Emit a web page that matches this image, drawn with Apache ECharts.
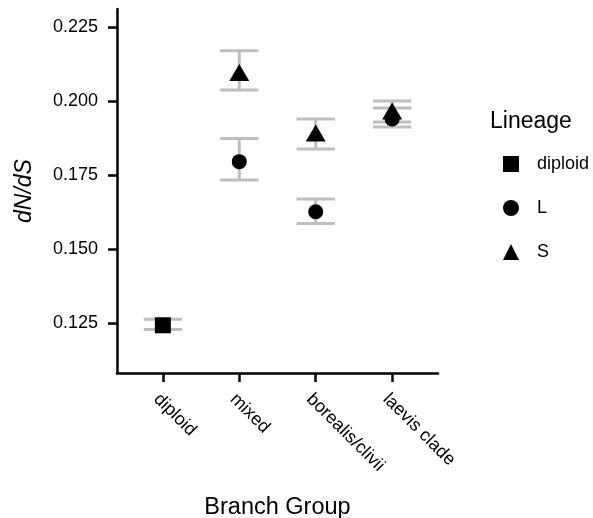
<!DOCTYPE html>
<html>
<head>
<meta charset="utf-8">
<script src="https://cdn.jsdelivr.net/npm/echarts@6/dist/echarts.min.js"></script>
<style>html,body{margin:0;padding:0;background:#fff;}#c{width:593px;height:518px;}</style>
</head>
<body>
<div id="c"></div>
<script>
const categories = ['diploid', 'mixed', 'borealis/clivii', 'laevis clade'];
const lineages = ['diploid', 'L', 'S'];
const yTicks = [0.125, 0.150, 0.175, 0.200, 0.225];

// category position (1-based), mean, lower, upper
const diploidCat = [1];
const diploidMean = [0.1244];
const diploidLo = [0.1230];
const diploidHi = [0.1264];

const lCat = [2, 3, 4];
const lMean = [0.1796, 0.1627, 0.1940];
const lLo = [0.1734, 0.1587, 0.1913];
const lHi = [0.1874, 0.1670, 0.1977];

const sCat = [2, 3, 4];
const sMean = [0.2097, 0.1893, 0.1967];
const sLo = [0.2038, 0.1839, 0.1930];
const sHi = [0.2170, 0.1940, 0.2001];

const FONT = "'Liberation Sans', Arial, Helvetica, sans-serif";
const pts = (c, m) => c.map((x, i) => [x, m[i]]);
const errs = (c, lo, hi) => c.map((x, i) => [x, lo[i], hi[i]]);
const allErr = [].concat(errs(diploidCat, diploidLo, diploidHi), errs(lCat, lLo, lHi), errs(sCat, sLo, sHi));

const chart = echarts.init(document.getElementById('c'), null, {renderer: 'canvas'});
chart.setOption({
  animation: false,
  backgroundColor: '#fff',
  grid: {left: 117, right: 155, top: 9, bottom: 145, containLabel: false, outerBoundsMode: 'none'},
  title: {
    text: 'Lineage', left: 485, top: 105,
    textStyle: {fontFamily: FONT, fontSize: 23, fontWeight: 'normal', color: '#000'}
  },
  legend: {
    orient: 'vertical', left: 498, top: 150,
    itemWidth: 16, itemHeight: 16, itemGap: 26,
    data: [{name: 'diploid', icon: 'rect'}, {name: 'L', icon: 'circle'}, {name: 'S', icon: 'triangle'}],
    textStyle: {fontFamily: FONT, fontSize: 18, color: '#000', padding: [0, 0, 0, 13]}
  },
  xAxis: {
    type: 'value', min: 0.4, max: 4.6,
    name: 'Branch Group', nameLocation: 'middle', nameGap: 123,
    nameTextStyle: {fontFamily: FONT, fontSize: 23.5, color: '#000'},
    splitLine: {show: false},
    axisLine: {show: true, lineStyle: {color: '#000', width: 2.5}},
    axisTick: {show: true, length: 9, lineStyle: {color: '#000', width: 2.5}, customValues: [1, 2, 3, 4]},
    axisLabel: {
      customValues: [1, 2, 3, 4], rotate: -45, margin: 17, verticalAlign: 'top',
      fontFamily: FONT, fontSize: 18, color: '#000',
      formatter: v => categories[Math.round(v) - 1] || ''
    }
  },
  yAxis: {
    type: 'value', min: 0.1083, max: 0.2311,
    name: 'dN/dS', nameLocation: 'middle', nameGap: 81,
    nameTextStyle: {fontFamily: FONT, fontSize: 23, fontStyle: 'italic', color: '#000'},
    splitLine: {show: false},
    axisLine: {show: true, lineStyle: {color: '#000', width: 2.5}},
    axisTick: {show: true, length: 9, lineStyle: {color: '#000', width: 2.5}, customValues: yTicks},
    axisLabel: {
      customValues: yTicks, margin: 19,
      fontFamily: FONT, fontSize: 18, color: '#000',
      formatter: v => v.toFixed(3)
    }
  },
  series: [
    {
      type: 'custom', name: 'errorbars', silent: true, z: 1,
      data: allErr,
      encode: {x: 0, y: [1, 2]},
      renderItem: function (params, api) {
        const x = api.value(0), lo = api.value(1), hi = api.value(2);
        const a = api.coord([x, lo]), b = api.coord([x, hi]);
        const l1 = api.coord([x - 0.25, lo]), r1 = api.coord([x + 0.25, lo]);
        const l2 = api.coord([x - 0.25, hi]), r2 = api.coord([x + 0.25, hi]);
        const st = {stroke: '#bebebe', lineWidth: 3};
        return {type: 'group', children: [
          {type: 'line', shape: {x1: a[0], y1: a[1], x2: b[0], y2: b[1]}, style: st},
          {type: 'line', shape: {x1: l1[0], y1: l1[1], x2: r1[0], y2: r1[1]}, style: st},
          {type: 'line', shape: {x1: l2[0], y1: l2[1], x2: r2[0], y2: r2[1]}, style: st}
        ]};
      }
    },
    {type: 'scatter', name: 'diploid', data: pts(diploidCat, diploidMean), symbol: 'rect', symbolSize: 16, itemStyle: {color: '#000', opacity: 1}, z: 5},
    {type: 'scatter', name: 'L', data: pts(lCat, lMean), symbol: 'circle', symbolSize: 15, itemStyle: {color: '#000', opacity: 1}, z: 5},
    {type: 'scatter', name: 'S', data: pts(sCat, sMean), symbol: 'triangle', symbolSize: [20, 17], itemStyle: {color: '#000', opacity: 1}, z: 5}
  ]
});
</script>
</body>
</html>
